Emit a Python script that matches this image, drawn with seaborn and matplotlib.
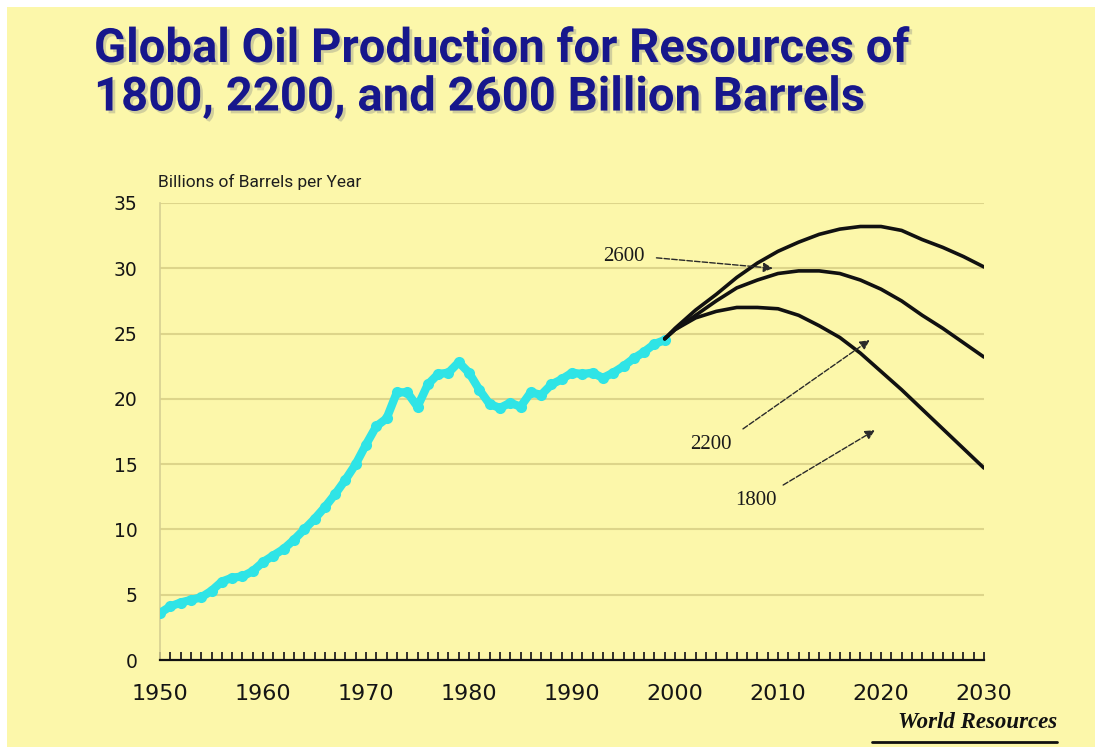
import matplotlib
matplotlib.use("Agg")
import matplotlib.pyplot as plt
import matplotlib.patheffects as pe
from matplotlib.ticker import MultipleLocator
from matplotlib.lines import Line2D
from matplotlib.patches import Rectangle
import pandas as pd
import seaborn as sns

# Historical world oil production, billions of barrels per year
hist_years = list(range(1950, 2000))
hist_prod = [3.6, 4.1, 4.4, 4.6, 4.8, 5.3, 6.0, 6.3, 6.4, 6.8,
             7.5, 8.0, 8.5, 9.2, 10.0, 10.8, 11.7, 12.7, 13.8, 15.0,
             16.5, 17.9, 18.5, 20.5, 20.5, 19.4, 21.1, 21.9, 22.0, 22.8,
             22.0, 20.7, 19.6, 19.3, 19.7, 19.4, 20.5, 20.3, 21.1, 21.5,
             22.0, 21.9, 22.0, 21.6, 22.0, 22.5, 23.1, 23.6, 24.2, 24.5]

# Projected production for three ultimate-resource scenarios
proj_years = [1999, 2000, 2002, 2004, 2006, 2008, 2010, 2012, 2014,
              2016, 2018, 2020, 2022, 2024, 2026, 2028, 2030]
proj_2600 = [24.6, 25.4, 26.8, 28.0, 29.3, 30.4, 31.3, 32.0, 32.6,
             33.0, 33.2, 33.2, 32.9, 32.2, 31.6, 30.9, 30.1]
proj_2200 = [24.6, 25.3, 26.4, 27.5, 28.5, 29.1, 29.6, 29.8, 29.8,
             29.6, 29.1, 28.4, 27.5, 26.4, 25.4, 24.3, 23.2]
proj_1800 = [24.6, 25.3, 26.2, 26.7, 27.0, 27.0, 26.9, 26.4, 25.6,
             24.7, 23.5, 22.1, 20.7, 19.2, 17.7, 16.2, 14.7]

scenario_labels = ["2600", "2200", "1800"]
y_ticks = [0, 5, 10, 15, 20, 25, 30, 35]
x_ticks = [1950, 1960, 1970, 1980, 1990, 2000, 2010, 2020, 2030]

title_text = "Global Oil Production for Resources of\n1800, 2200, and 2600 Billion Barrels"
ylabel_text = "Billions of Barrels per Year"
source_text = "World Resources"

BG = "#fcf7aa"
NAVY = "#17178c"

sns.set_style("white")
plt.rcParams["font.family"] = ["DejaVu Sans"]

hist_df = pd.DataFrame({"year": hist_years, "prod": hist_prod})
proj_df = pd.DataFrame({
    "year": proj_years * 3,
    "prod": proj_2600 + proj_2200 + proj_1800,
    "resource": [s for s in scenario_labels for _ in proj_years],
})

fig = plt.figure(figsize=(10.98, 7.47), dpi=100, facecolor="white")
# slide background with a thin white margin on the top and left
fig.patches.append(Rectangle((7 / 1098, 0), 1 - 10 / 1098, 1 - 7 / 747,
                             transform=fig.transFigure, facecolor=BG,
                             edgecolor="none", zorder=-10))

ax = fig.add_axes([160 / 1098, 1 - 660 / 747, 824 / 1098, 457 / 747])
ax.set_facecolor("none")

# horizontal grid
for yv in y_ticks[1:]:
    ax.axhline(yv, color="#ddd58a", lw=1.5, zorder=0)

sns.lineplot(data=hist_df, x="year", y="prod", ax=ax, color="#2fe4e6",
             lw=6, marker="o", markersize=8, markeredgewidth=0,
             legend=False, zorder=3)
sns.lineplot(data=proj_df, x="year", y="prod", hue="resource",
             palette={s: "#111111" for s in scenario_labels},
             ax=ax, lw=2.6, legend=False, zorder=4)

ax.set_xlim(1950, 2030)
ax.set_ylim(0, 35)
ax.set_xticks(x_ticks)
ax.set_yticks(y_ticks)
ax.xaxis.set_minor_locator(MultipleLocator(1))
ax.set_xticklabels([str(v) for v in x_ticks], fontsize=16, color="#151515")
ax.set_yticklabels([str(v) for v in y_ticks], fontsize=13.5, color="#151515")
ax.tick_params(axis="x", which="both", bottom=True, direction="in",
               length=6, width=1.3, color="#222222", pad=17)
ax.tick_params(axis="y", which="both", left=False, length=0, pad=16)
ax.set_xlabel("")
ax.set_ylabel("")

for side in ("top", "right"):
    ax.spines[side].set_visible(False)
ax.spines["left"].set_color("#d6d092")
ax.spines["left"].set_linewidth(1.2)
ax.spines["bottom"].set_color("#111111")
ax.spines["bottom"].set_linewidth(1.6)

# scenario annotations
arrow_kw = dict(arrowstyle="-|>", color="#2a2a2a", lw=1.0,
                linestyle=(0, (4, 1.5)), mutation_scale=14,
                shrinkA=0, shrinkB=0)
notes = [
    ("2600", (1995.0, 30.9), (1998.2, 30.8), (2009.5, 30.0)),
    ("2200", (2003.5, 16.5), (2006.6, 17.7), (2018.9, 24.5)),
    ("1800", (2007.9, 12.2), (2010.5, 13.4), (2019.4, 17.6)),
]
for label, txt_xy, tail, head in notes:
    ax.text(*txt_xy, label, ha="center", va="center", fontsize=15,
            family="Liberation Serif", color="#1a1a1a", zorder=6)
    ax.annotate("", xy=head, xytext=tail, arrowprops=arrow_kw, zorder=6)

# title with a soft drop shadow
fig.text(94 / 1098, 1 - 27 / 747, title_text, ha="left", va="top",
         fontsize=34, fontweight="bold", family="Roboto", color=NAVY,
         linespacing=1.13,
         path_effects=[pe.withSimplePatchShadow(offset=(2, -2),
                                                shadow_rgbFace="#a8a890",
                                                alpha=0.5)])

fig.text(158 / 1098, 1 - 182 / 747, ylabel_text, ha="left", va="center",
         fontsize=12.5, family="Roboto", color="#1e1e1e")

fig.text(1057 / 1098, 1 - 722 / 747, source_text, ha="right", va="center",
         fontsize=16.5, fontweight="bold", fontstyle="italic",
         family="Liberation Serif", color="#111111")
fig.lines.append(Line2D([872 / 1098, 1057 / 1098], [1 - 742 / 747, 1 - 742 / 747],
                        transform=fig.transFigure, color="#111111", lw=2))

fig.savefig("out.png", dpi=100, facecolor="white")
